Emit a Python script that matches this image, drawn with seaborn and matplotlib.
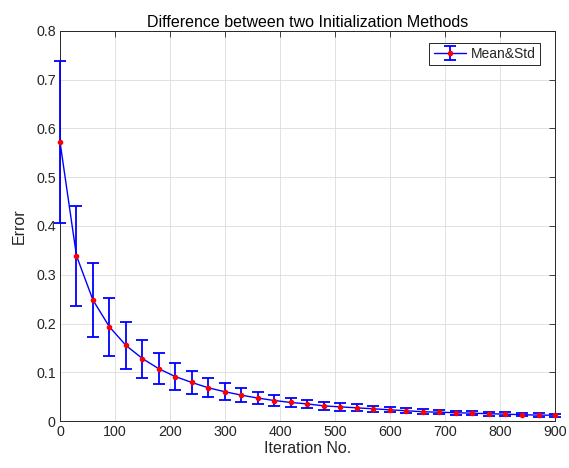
import matplotlib
matplotlib.use("Agg")
import matplotlib.pyplot as plt
import seaborn as sns
import numpy as np

iterations = [0, 30, 60, 90, 120, 150, 180, 210, 240, 270, 300, 330, 360, 390, 420,
              450, 480, 510, 540, 570, 600, 630, 660, 690, 720, 750, 780, 810, 840, 870, 900]
mean_err = [0.573, 0.339, 0.248, 0.193, 0.155, 0.128, 0.107, 0.091, 0.079, 0.068, 0.060,
            0.053, 0.047, 0.042, 0.038, 0.035, 0.031, 0.029, 0.027, 0.025, 0.023, 0.021,
            0.019, 0.018, 0.017, 0.016, 0.015, 0.014, 0.013, 0.012, 0.012]
std_err = [0.166, 0.103, 0.076, 0.060, 0.048, 0.039, 0.032, 0.027, 0.023, 0.0195, 0.0175,
           0.0145, 0.013, 0.012, 0.010, 0.009, 0.0085, 0.0075, 0.007, 0.006, 0.0055, 0.005,
           0.005, 0.0045, 0.0045, 0.004, 0.004, 0.004, 0.0035, 0.0035, 0.003]
x_ticks = [0, 100, 200, 300, 400, 500, 600, 700, 800, 900]
y_ticks = [0, 0.1, 0.2, 0.3, 0.4, 0.5, 0.6, 0.7, 0.8]

sns.set_style("whitegrid")
plt.rcParams['font.family'] = ['Liberation Sans', 'DejaVu Sans']

fig = plt.figure(figsize=(5.69, 4.68), dpi=100)
ax = fig.add_axes([0.1054, 0.1004, 0.8700, 0.8334])

tc = '#262626'
ax.errorbar(iterations, mean_err, yerr=std_err, fmt='-', color='blue', lw=1.0,
            marker='o', ms=3, mfc='red', mec='red', ecolor='blue', elinewidth=1.3,
            capsize=4, capthick=1.3, label='Mean&Std', clip_on=False, zorder=3)

ax.set_xlim(0, 900)
ax.set_ylim(0, 0.8)
ax.set_xticks(x_ticks)
ax.set_yticks(y_ticks)
ax.set_xticklabels([str(v) for v in x_ticks])
ax.set_yticklabels(['0', '0.1', '0.2', '0.3', '0.4', '0.5', '0.6', '0.7', '0.8'])
ax.grid(True, color='#dcdcdc', lw=0.6)
ax.tick_params(direction='in', length=4, width=0.6, colors=tc, labelsize=10.3,
               top=True, right=True, labelcolor=tc, pad=3)
for s in ax.spines.values():
    s.set_visible(True)
    s.set_color(tc)
    s.set_linewidth(0.7)

ax.set_title('Difference between two Initialization Methods', fontsize=11.5, color='black', pad=3)
ax.set_xlabel('Iteration No.', fontsize=11.5, color=tc, labelpad=1)
ax.set_ylabel('Error', fontsize=11.5, color=tc, labelpad=7)

leg = ax.legend(loc='upper right', bbox_to_anchor=(0.970, 0.969), borderaxespad=0,
                fontsize=10, frameon=True, fancybox=False, framealpha=1, edgecolor=tc,
                handlelength=2.3, borderpad=0.3, handletextpad=0.4)
leg.get_frame().set_linewidth(0.7)

fig.savefig('out.png', dpi=100)
